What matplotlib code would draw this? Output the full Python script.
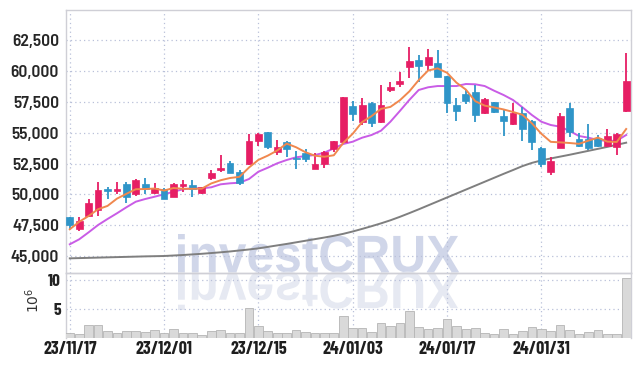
import numpy as np
import pandas as pd
import matplotlib.pyplot as plt
from matplotlib.font_manager import FontProperties
from matplotlib.textpath import TextPath
from matplotlib.patches import PathPatch
from matplotlib.transforms import Affine2D

# daily candles, 23/11/17 .. 24/02/15
opens = [48150, 47220, 48250, 48740, 50460, 50300, 50870, 50010, 50850, 50140,
         50420, 49820, 50680, 50740, 50140, 51330, 51980, 52580, 51820, 52450,
         54360, 55070, 53450, 54260, 52960, 53340, 52090, 52450, 53710, 54280,
         57180, 55860, 57450, 55860, 58480, 58940, 60320, 60920, 60490, 60670,
         59620, 57260, 58180, 58290, 56640, 57480, 56370, 55690, 56610, 55990,
         53770, 51850, 53800, 56990, 54500, 54530, 54610, 53930, 53880, 56800]
highs = [48200, 48170, 49630, 51030, 50580, 51000, 50980, 51230, 51330, 50900,
         50500, 50900, 51170, 51170, 50630, 51980, 53180, 52690, 51980, 54880,
         54960, 55100, 54420, 54310, 53550, 53710, 53390, 53530, 54350, 57900,
         57610, 57800, 57500, 58860, 59150, 59970, 61950, 61320, 61780, 61740,
         59650, 57850, 58480, 58890, 57800, 57500, 56850, 57400, 57120, 56050,
         53850, 53060, 56590, 57400, 54960, 55700, 54820, 55290, 54950, 61460]
lows = [47200, 47050, 48200, 48250, 49630, 50040, 49330, 49900, 50040, 50000,
        49600, 49760, 50200, 49800, 50040, 51170, 51820, 51700, 50740, 52400,
        53930, 53710, 53180, 53010, 52040, 52630, 52050, 52150, 53450, 54200,
        55990, 55640, 55500, 55800, 58340, 58700, 59480, 59150, 60000, 59500,
        56580, 55960, 57340, 55880, 56530, 56600, 54740, 55610, 54360, 53610,
        52250, 51580, 53740, 54640, 53880, 53630, 53850, 53900, 53180, 56720]
closes = [47500, 47870, 49300, 50360, 50300, 50460, 49820, 51170, 50440, 50500,
          49650, 50850, 50850, 50420, 50580, 51760, 52150, 51760, 50900, 54340,
          54880, 53880, 53830, 53710, 52850, 52850, 52470, 53420, 54310, 57890,
          56530, 57240, 55820, 57240, 58700, 59210, 60830, 60430, 61140, 59560,
          57450, 56800, 57610, 56430, 57750, 56720, 55990, 56590, 55290, 54280,
          52500, 52690, 56370, 55040, 53930, 53800, 53930, 54740, 54880, 59210]
volumes = [0.92, 0.75, 2.3, 2.3, 1.27, 0.92, 1.27, 1.27, 1.1, 1.45,
           0.92, 1.62, 0.92, 0.92, 0.58, 1.27, 1.45, 0.81, 0.81, 5.1,
           2.14, 1.27, 0.81, 0.92, 1.45, 1.1, 0.81, 0.81, 0.81, 3.76,
           1.8, 1.8, 1.1, 2.5, 2.14, 2.66, 4.57, 1.97, 1.62, 1.8,
           3.3, 2.14, 1.62, 1.8, 0.92, 0.75, 1.62, 0.75, 1.27, 1.97,
           1.62, 1.27, 2.3, 1.45, 0.75, 1.1, 1.45, 0.75, 0.75, 10.3]

# moving averages (earlier history not shown)
ma5_head = [47170, 47780, 48250, 48800]
ma20 = [45950, 46356, 46924, 47517, 48004, 48467, 48954, 49409, 49628, 49815,
        50010, 50221, 50416, 50497, 50497, 50578, 50822, 50903, 50952, 51250,
        51845, 52170, 52527, 52795, 53014, 53120, 53200, 53390, 53745, 54094,
        54281, 54606, 54825, 55174, 55905, 56774, 57667, 58479, 58700, 58800,
        58800, 58800, 58966, 58942, 58800, 58420, 58073, 57667, 57074, 56449,
        55905, 55637, 55500, 55150, 54744, 54606, 54419, 54338, 54362, 54825]
ma_long = [44810, 44830, 44850, 44870, 44890, 44910, 44930, 44950, 44970, 44985,
           45000, 45040, 45080, 45130, 45180, 45240, 45300, 45370, 45450, 45530,
           45620, 45740, 45860, 45980, 46110, 46240, 46370, 46500, 46640, 46800,
           46990, 47200, 47420, 47650, 47900, 48180, 48480, 48790, 49110, 49430,
           49750, 50070, 50390, 50710, 51030, 51350, 51670, 51980, 52300, 52560,
           52760, 52920, 53070, 53220, 53380, 53540, 53700, 53860, 54030, 54200]

tick_pos = [0, 10, 20, 30, 40, 50]
tick_labels = ['23/11/17', '23/12/01', '23/12/15', '24/01/03', '24/01/17', '24/01/31']
price_ticks = [45000, 47500, 50000, 52500, 55000, 57500, 60000, 62500]

UP = '#e61e64'
DOWN = '#2f95c8'
GRID = '#b9c0d9'
XFONT = ['Barlow Condensed', 'DejaVu Sans']
YFONT = ['Barlow Semi Condensed', 'DejaVu Sans']

x = np.arange(len(closes))
o = np.array(opens); c = np.array(closes)
ma5 = pd.Series(closes).rolling(5).mean().to_numpy()
ma5[:4] = ma5_head

fig = plt.figure(figsize=(6.39, 3.66), dpi=100)
fig.patch.set_facecolor('white')
ax = fig.add_axes([0.1033, 0.2541, 0.884, 0.7186])
axv = fig.add_axes([0.1033, 0.0765, 0.884, 0.1776], sharex=ax)

for a in (ax, axv):
    a.set_facecolor('none')
    a.set_zorder(1)
    for s in a.spines.values():
        s.set_color('#cfcfd6')
        s.set_linewidth(1)
    a.grid(True, color=GRID, linestyle=(0, (1, 2.5)), linewidth=0.9)
    a.set_axisbelow(True)
    a.tick_params(length=0)

up = c >= o
colors = np.where(up, UP, DOWN)
ax.vlines(x, lows, highs, colors=colors, linewidth=1.3, zorder=3)
body = np.maximum(np.abs(c - o), 120)
ax.bar(x, body, bottom=np.minimum(o, c), width=0.72, color=colors,
       edgecolor=colors, linewidth=0.5, zorder=4)

ax.plot(x, ma_long, color='#7f7f7f', lw=1.4, zorder=2)
ax.plot(x, ma20, color='#c95ce6', lw=1.4, zorder=2)
ax.plot(x, ma5, color='#f0884e', lw=1.4, zorder=5)

ax.set_ylim(43620, 64975)
ax.set_xlim(-0.4, 59.5)
ax.set_yticks(price_ticks)
ax.set_yticklabels([f'{v:,}' for v in price_ticks], family=YFONT,
                   fontsize=12.5, fontweight=600, color='#262626')
ax.tick_params(axis='x', labelbottom=False)
ax.tick_params(axis='y', pad=5)

axv.bar(x, volumes, width=0.92, color='#d9d9d9', edgecolor='#b5b5b5',
        linewidth=0.6, zorder=3)
axv.set_ylim(0, 11.2)
axv.set_yticks([5, 10])
axv.set_yticklabels(['5', '10'], family=XFONT, fontsize=12.5,
                    fontweight=700, color='#222222')
axv.set_xticks(tick_pos)
axv.set_xticklabels(tick_labels, family=XFONT, fontsize=13,
                    fontweight=700, color='#1e1e1e')
axv.tick_params(axis='x', pad=2)
axv.spines['bottom'].set_visible(False)
fig.text(0.051, 0.178, '10$^6$', rotation=90, fontsize=10, color='#333333',
         ha='center', va='center')

# watermark with its reflection
fp = FontProperties(family=['Liberation Sans', 'DejaVu Sans'], weight='bold')
tp = TextPath((0, 0), 'investCRUX', size=100, prop=fp)
ext = tp.get_extents()
sx = 281 / ext.width
sy = 38 / ext.y1
tx = 178 - ext.x0 * sx
base = 366 - 272
for flip, col in ((1, '#d0d6e9'), (-1, '#e6e9f2')):
    tr = Affine2D().scale(sx / 100, flip * sy / 100).translate(tx / 100, base / 100)
    fig.add_artist(PathPatch(tp, transform=tr + fig.dpi_scale_trans,
                             facecolor=col, edgecolor='none', zorder=0.5))

fig.savefig('out.png', dpi=100)
